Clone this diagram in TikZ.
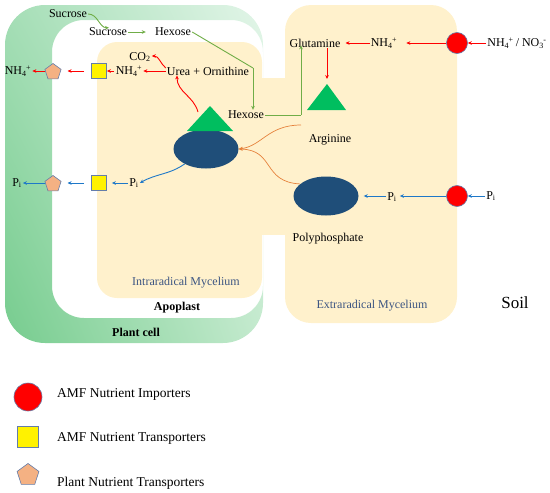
\documentclass[tikz,border=0pt]{standalone}
\usepackage{fontspec}
\setmainfont{Liberation Serif}
\usetikzlibrary{arrows.meta,shapes.geometric,shadings}
\definecolor{beige}{RGB}{255,241,204}
\definecolor{gUL}{RGB}{165,222,182}
\definecolor{gLL}{RGB}{118,204,142}
\definecolor{gUR}{RGB}{226,245,232}
\definecolor{gLR}{RGB}{196,234,206}
\definecolor{redc}{RGB}{255,0,0}
\definecolor{bluea}{RGB}{30,120,200}
\definecolor{greena}{RGB}{112,173,71}
\definecolor{orangea}{RGB}{230,130,60}
\definecolor{navy}{RGB}{31,78,121}
\definecolor{trig}{RGB}{0,190,95}
\definecolor{pent}{RGB}{244,177,131}
\definecolor{edgeb}{RGB}{100,125,170}
\definecolor{mycel}{RGB}{60,85,130}
\newcommand{\nhf}{NH\textsubscript{4}\kern-0.5pt\textsuperscript{+}}
\newcommand{\pif}{P\textsubscript{i}}
\tikzset{
  lbl/.style={font=\fontsize{12}{14}\selectfont, inner sep=1pt},
  lgd/.style={font=\fontsize{13.5}{16}\selectfont, inner sep=0pt, anchor=west},
  imp/.style={circle, fill=redc, draw=edgeb, line width=0.6pt, minimum size=21pt, inner sep=0pt},
  tsq/.style={rectangle, fill=yellow, draw=edgeb, line width=0.8pt, minimum size=15pt, inner sep=0pt},
  pen/.style={regular polygon, regular polygon sides=5, fill=pent, draw=edgeb, line width=0.6pt, minimum size=17pt, inner sep=0pt},
  blob/.style={ellipse, fill=navy, minimum width=65pt, minimum height=39pt, inner sep=0pt},
  arr/.style={-{Stealth[length=4pt,width=3.6pt]}, line width=0.9pt},
  ra/.style={arr, draw=redc},
  ba/.style={arr, draw=bluea},
  ga/.style={arr, draw=greena},
  oa/.style={arr, draw=orangea, line width=0.7pt},
}
\begin{document}
\begin{tikzpicture}[x=1pt,y=-1pt]
\useasboundingbox (0,0) rectangle (550,493);
% plant cell
\shade[even odd rule, upper left=gUL, lower left=gLL, upper right=gUR, lower right=gLR]
  (5,5) [rounded corners=40pt] rectangle (263,343)
  (52,20) [rounded corners=32pt] rectangle (263,318);
% mycelium
\fill[beige, rounded corners=20pt] (97,42) rectangle (262,298);
\fill[beige] (255,78) rectangle (292,235);
\fill[beige, rounded corners=26pt] (285,5) rectangle (457,323);

% top sugars
\node[lbl] (suc1) at (68,14) {Sucrose};
\node[lbl] (suc2) at (108,32) {Sucrose};
\node[lbl] (hex1) at (173,32) {Hexose};
\node[lbl] (hex2) at (246,115) {Hexose};
\node[lbl] (glut) at (315,43) {Glutamine};
\node[lbl] (nh4e) at (384,43) {\nhf};
\node[imp] (imp1) at (457,43) {};
\node[lbl] (nh4no3) at (517,43) {\nhf\,/ NO\textsubscript{3}\kern-0.5pt\textsuperscript{-}};
\node[lbl] (arg) at (330,140) {Arginine};
\node[lbl] (urea) at (208,71) {Urea + Ornithine};
\node[lbl] (co2) at (140,57) {CO\textsubscript{2}};
\node[lbl] (nh4i) at (129,71) {\nhf};
\node[tsq] (sq1) at (99,71) {};
\node[pen] (pe1) at (53,72) {};
\node[lbl] (nh4p) at (18,71) {\nhf};

% blobs and triangles
\node[blob] (ell1) at (206,149) {};
\fill[trig] (210,106) -- (233,131) -- (187,131) -- cycle;
\coordinate (t1a) at (198,112);
\fill[trig] (327,84) -- (346,110) -- (307,110) -- cycle;
\coordinate (t2) at (327,84);
\node[blob] (ell2) at (326,196) {};
\node[lbl] (poly) at (328,239) {Polyphosphate};

% phosphate rows
\node[lbl] (pi1) at (17,183) {\pif};
\node[pen] (pe2) at (53,184) {};
\node[tsq] (sq2) at (99,183) {};
\node[lbl] (pi2) at (134,183) {\pif};
\node[lbl] (pi3) at (392,197) {\pif};
\node[imp] (imp2) at (457,196) {};
\node[lbl] (pi4) at (491,196) {\pif};

% region labels
\node[lbl, text=mycel] (intra) at (186,283) {Intraradical Mycelium};
\node[lbl, text=mycel] (extra) at (372,306) {Extraradical Mycelium};
\node[font=\fontsize{17}{20}\selectfont] (soil) at (515,303) {Soil};
\node[lbl, font=\fontsize{12}{14}\selectfont\bfseries] (apo) at (177,308) {Apoplast};
\node[lbl, font=\fontsize{12}{14}\selectfont\bfseries] (pcell) at (136,332) {Plant cell};

% green connectors
\draw[ga] (suc1.east) to[out=0, in=180] ([xshift=1pt,yshift=-1pt]suc2.north);
\draw[ga, shorten >=8pt] (suc2.east) -- (hex1.west);
\coordinate (hbend) at (253,68);
\draw[ga, -] (hex1.east) -- (hbend);
\draw[ga] (hbend) -- (hbend |- hex2.north);
\coordinate (gbend) at (301,115);
\draw[ga, -] (hex2.east) -- (gbend);
\draw[ga] (gbend) -- ([yshift=3pt]gbend |- glut.south);

% red connectors
\draw[ra] (nh4no3.west) -- (imp1.east);
\draw[ra, shorten >=8pt] (imp1.west) -- (nh4e.east);
\draw[ra, shorten >=4pt] (nh4e.west) -- (glut.east);
\draw[ra, shorten >=5pt] (t2 |- glut.south) -- (t2);
\draw[ra] (t1a) to[out=105, in=-90] ([xshift=-31pt,yshift=1pt]urea.south);
\draw[ra] ([yshift=3pt]urea.west) to[out=140, in=0] ([yshift=1pt]co2.east);
\draw[ra] (urea.west) -- (nh4i.east);
\draw[ra, shorten <=1pt] (nh4i.west) -- (sq1.east);
\draw[ra, shorten <=7pt, shorten >=7pt] (sq1.west) -- (pe1.east |- sq1.west);
\draw[ra] (pe1.west |- nh4p.east) -- (nh4p.east);

% blue connectors
\draw[ba] (ell1.215) to[out=215, in=30] (pi2.east);
\draw[ba, shorten >=5pt] (pi2.west) -- (sq2.east);
\draw[ba, shorten <=7pt, shorten >=7pt] (sq2.west) -- (pe2.east |- sq2.west);
\draw[ba] (pe2.west |- pi1.east) -- (pi1.east);
\draw[ba] (pi4.west) -- (imp2.east);
\draw[ba, shorten >=2pt] (imp2.west) -- (imp2.west -| pi3.east);
\draw[ba, shorten >=5pt] (pi3.west |- ell2.east) -- (ell2.east);

% orange connectors
\coordinate (ostart) at (301,125);
\draw[oa] (ostart) .. controls (268,125) and (262,146) .. (ell1.east);
\draw[oa] (ell2.155) .. controls (262,182) and (275,150) .. (ell1.east);

% legend
\node[imp, minimum size=28pt] (limp) at (28,397) {};
\node[lgd] (limpt) at (57,394) {AMF Nutrient Importers};
\node[tsq, minimum size=21pt] (lsq) at (28,437) {};
\node[lgd] (lsqt) at (57,438) {AMF Nutrient Transporters};
\node[pen, minimum size=23pt] (lpe) at (28,475) {};
\node[lgd] (lpet) at (57,483) {Plant Nutrient Transporters};
\end{tikzpicture}
\end{document}
